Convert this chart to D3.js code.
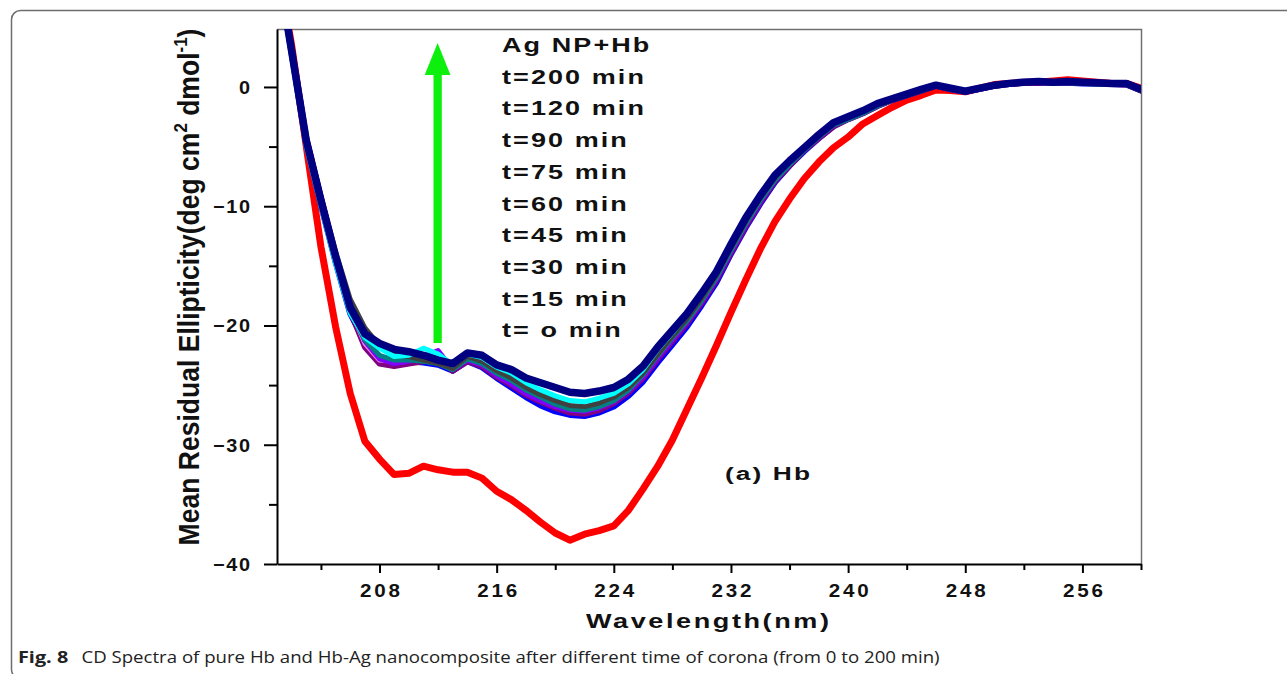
<!DOCTYPE html>
<html>
<head>
<meta charset="utf-8">
<script src="https://cdn.jsdelivr.net/npm/d3@7"></script>
<style>
  body { margin: 0; background: #fff; }
  svg { display: block; }
  .lbl { font-family: "Liberation Sans", Arial, sans-serif; font-weight: bold; fill: #111; }
</style>
</head>
<body>
<svg id="chart" width="1287" height="674"></svg>
<script>
// wavelength grid (nm)
var wavelength = [201.5, 202, 203, 204, 205, 206, 207, 208, 209, 210, 211, 212, 213, 214, 215, 216, 217, 218, 219, 220,
  221, 222, 223, 224, 225, 226, 227, 228, 229, 230, 231, 232, 233, 234, 235, 236, 237, 238, 239, 240,
  241, 242, 243, 244, 245, 246, 247, 248, 249, 250, 251, 252, 253, 254, 255, 256, 257, 258, 259, 260];

// pure Hb (red)
var hbPure = [7.0, 3.5, -5.0, -13.4, -20.1, -25.7, -29.7, -31.2, -32.5, -32.4, -31.8, -32.1, -32.3, -32.3, -32.8, -33.9, -34.6, -35.5, -36.5, -37.4,
  -38.0, -37.5, -37.2, -36.8, -35.5, -33.7, -31.8, -29.6, -27.0, -24.4, -21.7, -18.9, -16.2, -13.6, -11.3, -9.4, -7.7, -6.3, -5.1, -4.2,
  -3.1, -2.4, -1.7, -1.1, -0.7, -0.25, -0.3, -0.4, -0.1, 0.2, 0.3, 0.4, 0.4, 0.5, 0.6, 0.5, 0.4, 0.3, 0.3, -0.1];

// Ag NP + Hb
var t15 = [6.6, 2.8, -4.8, -9.9, -14.7, -19.0, -21.4, -22.6, -23.0, -23.0, -23.1, -23.3, -23.8, -23.0, -23.5, -24.4, -25.2, -26.0, -26.7, -27.2,
  -27.5, -27.6, -27.3, -26.8, -25.9, -24.7, -23.1, -21.6, -20.1, -18.3, -16.4, -14.0, -11.8, -9.8, -8.0, -6.6, -5.4, -4.3, -3.3, -2.7,
  -2.2, -1.6, -1.1, -0.7, -0.3, 0.1, -0.2, -0.4, -0.15, 0.1, 0.25, 0.35, 0.4, 0.35, 0.35, 0.3, 0.3, 0.25, 0.2, -0.3];
var t30 = [6.9, 3.3, -4.3, -9.3, -14.2, -18.8, -21.8, -23.2, -23.4, -23.2, -23.0, -22.6, -23.8, -23.0, -23.4, -24.3, -25.0, -25.8, -26.4, -26.9,
  -27.3, -27.4, -27.1, -26.5, -25.6, -24.4, -22.8, -21.3, -19.8, -18.1, -16.2, -13.9, -11.7, -9.7, -7.9, -6.6, -5.3, -4.3, -3.3, -2.7,
  -2.2, -1.6, -1.1, -0.7, -0.3, 0.1, -0.15, -0.4, -0.15, 0.1, 0.25, 0.35, 0.4, 0.35, 0.4, 0.35, 0.3, 0.25, 0.2, -0.3];
var t45 = [6.8, 3.1, -4.5, -9.4, -14.1, -18.6, -21.5, -22.9, -23.0, -22.8, -22.7, -23.0, -23.6, -22.8, -23.2, -24.1, -24.8, -25.6, -26.2, -26.7,
  -27.0, -27.0, -26.7, -26.2, -25.3, -24.1, -22.5, -21.0, -19.5, -17.8, -15.9, -13.6, -11.4, -9.4, -7.7, -6.4, -5.2, -4.1, -3.1, -2.6,
  -2.1, -1.5, -1.0, -0.6, -0.2, 0.2, -0.1, -0.3, -0.1, 0.15, 0.3, 0.45, 0.5, 0.45, 0.5, 0.45, 0.4, 0.35, 0.3, -0.15];
var t60 = [6.9, 3.3, -4.2, -9.2, -14.0, -18.5, -21.3, -22.8, -23.2, -23.0, -22.6, -22.1, -23.7, -22.9, -23.3, -24.2, -24.9, -25.7, -26.3, -26.8,
  -27.1, -27.2, -26.9, -26.4, -25.5, -24.3, -22.7, -21.2, -19.7, -18.0, -16.1, -13.8, -11.6, -9.6, -7.8, -6.5, -5.2, -4.2, -3.2, -2.6,
  -2.1, -1.5, -1.0, -0.6, -0.2, 0.15, -0.1, -0.35, -0.1, 0.15, 0.3, 0.4, 0.45, 0.4, 0.4, 0.4, 0.3, 0.3, 0.25, -0.2];
var t75 = [6.6, 2.9, -4.7, -9.8, -14.6, -18.9, -21.2, -22.5, -22.9, -22.9, -23.0, -23.2, -23.7, -22.8, -23.2, -24.0, -24.6, -25.4, -26.0, -26.6,
  -27.0, -27.1, -26.8, -26.3, -25.4, -24.1, -22.5, -21.0, -19.6, -17.9, -16.0, -13.7, -11.5, -9.5, -7.8, -6.5, -5.3, -4.2, -3.2, -2.7,
  -2.2, -1.6, -1.1, -0.7, -0.3, 0.1, -0.15, -0.4, -0.15, 0.1, 0.25, 0.35, 0.4, 0.35, 0.35, 0.3, 0.25, 0.2, 0.2, -0.3];
var t90 = [6.8, 3.2, -4.3, -9.2, -13.8, -17.8, -20.2, -21.7, -22.4, -22.6, -22.9, -23.2, -23.6, -22.6, -23.0, -23.8, -24.4, -25.2, -25.8, -26.3,
  -26.7, -26.8, -26.5, -26.0, -25.2, -24.0, -22.4, -20.9, -19.4, -17.7, -15.8, -13.5, -11.3, -9.3, -7.6, -6.3, -5.1, -4.1, -3.1, -2.6,
  -2.1, -1.5, -1.1, -0.7, -0.3, 0.1, -0.2, -0.4, -0.15, 0.1, 0.3, 0.35, 0.4, 0.4, 0.4, 0.35, 0.3, 0.25, 0.2, -0.3];
var t120 = [6.5, 2.6, -5.0, -10.0, -14.8, -19.0, -21.0, -21.9, -22.6, -22.5, -21.9, -22.4, -23.3, -22.4, -22.7, -23.5, -24.0, -24.8, -25.4, -25.9,
  -26.3, -26.4, -26.1, -25.7, -24.9, -23.7, -22.0, -20.6, -19.1, -17.4, -15.5, -13.2, -11.0, -9.2, -7.5, -6.3, -5.2, -4.1, -3.1, -2.6,
  -2.1, -1.5, -1.0, -0.6, -0.25, 0.1, -0.15, -0.4, -0.15, 0.1, 0.3, 0.4, 0.4, 0.35, 0.4, 0.4, 0.3, 0.25, 0.25, -0.25];
var t200 = [6.7, 3.0, -4.5, -9.5, -14.2, -18.5, -20.7, -21.5, -22.0, -22.2, -22.5, -22.9, -23.2, -22.3, -22.5, -23.3, -23.7, -24.4, -24.8, -25.2,
  -25.6, -25.7, -25.5, -25.2, -24.5, -23.4, -21.8, -20.4, -19.0, -17.3, -15.5, -13.2, -11.0, -9.1, -7.4, -6.2, -5.1, -4.0, -3.0, -2.5,
  -2.0, -1.4, -1.0, -0.6, -0.2, 0.15, -0.1, -0.35, -0.1, 0.15, 0.3, 0.4, 0.45, 0.4, 0.45, 0.4, 0.35, 0.3, 0.3, -0.2];

var legendLines = ["Ag NP+Hb", "t=200 min", "t=120 min", "t=90 min", "t=75 min", "t=60 min", "t=45 min", "t=30 min", "t=15 min", "t= o min"];
var xMajorTicks = [208, 216, 224, 232, 240, 248, 256];
var xMinorTicks = [204, 212, 220, 228, 236, 244, 252, 260];
var yMajorTicks = [-40, -30, -20, -10, 0];
var yMinorTicks = [-35, -25, -15, -5];

// draw order: first = bottom
var series = [
  {values: hbPure, color: "#ff0000", width: 7},
  {values: t15, color: "#0000ff", width: 6},
  {values: t30, color: "#800080", width: 6},
  {values: t45, color: "#ee82ee", width: 5},
  {values: t60, color: "#8000ff", width: 5},
  {values: t75, color: "#008080", width: 5},
  {values: t90, color: "#404040", width: 5},
  {values: t120, color: "#00ffff", width: 5},
  {values: t200, color: "#000080", width: 7.5}
];

var svg = d3.select("#chart");
var plot = {left: 277, right: 1141, top: 29, bottom: 564};

var x = d3.scaleLinear().domain([201, 260]).range([plot.left, plot.right]);
var y = d3.scaleLinear().domain([-40, 4.86]).range([plot.bottom, plot.top]);

svg.append("rect").attr("width", 1287).attr("height", 674).attr("fill", "#fff");

// figure frame
svg.append("rect")
  .attr("x", 11.5).attr("y", 10.5)
  .attr("width", 1320).attr("height", 668)
  .attr("rx", 9).attr("ry", 9)
  .attr("fill", "none").attr("stroke", "#6e6e6e").attr("stroke-width", 1.5);

// plot box top / right (grey)
svg.append("path")
  .attr("d", "M" + plot.left + "," + (plot.top + 0.5) + "H" + (plot.right + 0.5) + "V" + plot.bottom)
  .attr("fill", "none").attr("stroke", "#707070").attr("stroke-width", 1.5);

svg.append("clipPath").attr("id", "clip")
  .append("rect")
  .attr("x", plot.left).attr("y", plot.top)
  .attr("width", plot.right - plot.left).attr("height", plot.bottom - plot.top);

var line = d3.line()
  .x(function(d, i) { return x(wavelength[i]); })
  .y(function(d) { return y(d); });

svg.append("g").attr("clip-path", "url(#clip)")
  .selectAll("path")
  .data(series)
  .enter().append("path")
    .attr("d", function(d) { return line(d.values); })
    .attr("fill", "none")
    .attr("stroke", function(d) { return d.color; })
    .attr("stroke-width", function(d) { return d.width; })
    .attr("stroke-linejoin", "round")
    .attr("stroke-linecap", "round");

// horizontal stretch so a string (with given letter spacing) hits a target width
function stretchFactor(str, size, target, ls) {
  var t = svg.append("text").attr("class", "lbl").style("font-size", size + "px").text(str);
  var w = t.node().getBBox().width;
  t.remove();
  return target / (w + ls * (str.length - 1));
}

// axes
var kX = stretchFactor("208", 18.5, 40, 2.5);
var kY = stretchFactor("-40", 18, 32, 1.5);

svg.append("g")
  .attr("transform", "translate(0," + plot.bottom + ")")
  .call(d3.axisBottom(x).tickValues(xMinorTicks).tickSize(6).tickFormat(""))
  .call(function(g) { g.select(".domain").remove(); });

svg.append("g")
  .attr("class", "x-axis")
  .attr("transform", "translate(0," + plot.bottom + ")")
  .call(d3.axisBottom(x).tickValues(xMajorTicks).tickSize(9).tickSizeOuter(0).tickFormat(d3.format("d")))
  .call(function(g) {
    g.selectAll("text")
      .attr("class", "lbl").attr("y", 0).attr("dy", null)
      .attr("fill", null)
      .style("font-size", "18.5px")
      .attr("letter-spacing", 2.5)
      .attr("transform", "translate(" + (1.25 * kX) + ",33) scale(" + kX + ",1)");
  });

svg.append("g")
  .attr("transform", "translate(" + plot.left + ",0)")
  .call(d3.axisLeft(y).tickValues(yMinorTicks).tickSize(8).tickFormat(""))
  .call(function(g) { g.select(".domain").remove(); });

svg.append("g")
  .attr("class", "y-axis")
  .attr("transform", "translate(" + plot.left + ",0)")
  .call(d3.axisLeft(y).tickValues(yMajorTicks).tickSize(13).tickSizeOuter(0))
  .call(function(g) {
    g.selectAll("text")
      .attr("class", "lbl").attr("x", 0).attr("dy", null)
      .attr("fill", null)
      .style("font-size", "18px")
      .attr("letter-spacing", 1.5)
      .attr("text-anchor", "end")
      .attr("transform", "translate(" + (-27 + 1.5 * kY) + ",6.5) scale(" + kY + ",1)");
  });

svg.selectAll(".domain, .tick line").attr("stroke", "#000").attr("stroke-width", 2);

// axis titles
var kXTitle = stretchFactor("Wavelength(nm)", 21, 243, 2);
svg.append("text")
  .attr("class", "lbl")
  .style("font-size", "21px")
  .attr("letter-spacing", 2)
  .attr("transform", "translate(586,628) scale(" + kXTitle + ",1)")
  .text("Wavelength(nm)");

var yTitle = svg.append("text")
  .attr("class", "lbl")
  .style("font-size", "22px")
  .attr("text-anchor", "middle");
yTitle.append("tspan").text("Mean Residual Ellipticity(deg cm");
yTitle.append("tspan").attr("dy", -9).style("font-size", "14px").text("2");
yTitle.append("tspan").attr("dy", 9).text(" dmol");
yTitle.append("tspan").attr("dy", -9).style("font-size", "14px").text("-1");
yTitle.append("tspan").attr("dy", 9).text(")");
var yLen = yTitle.node().getBBox().width;
yTitle.attr("transform", "translate(199,287) rotate(-90) scale(" + (517 / yLen) + ",1.3)");

// legend
var kLeg = stretchFactor("t=200 min", 19.5, 142, 1.5);
svg.append("g")
  .selectAll("text")
  .data(legendLines)
  .enter().append("text")
    .attr("class", "lbl")
    .style("font-size", "19.5px")
    .attr("letter-spacing", 1.5)
    .attr("transform", function(d, i) { return "translate(502," + (52 + i * 31.7) + ") scale(" + kLeg + ",1)"; })
    .text(function(d) { return d; });

var kHb = stretchFactor("(a) Hb", 19, 85, 1.5);
svg.append("text")
  .attr("class", "lbl")
  .style("font-size", "19px")
  .attr("letter-spacing", 1.5)
  .attr("transform", "translate(725,480) scale(" + kHb + ",1)")
  .text("(a) Hb");

// green arrow
svg.append("rect")
  .attr("x", 433.5).attr("y", 70).attr("width", 8.3).attr("height", 273)
  .attr("fill", "#0df00d");
svg.append("path")
  .attr("d", "M437.6,43L450.5,75H424.7Z")
  .attr("fill", "#0df00d");

// caption
var cap = svg.append("text")
  .style("font-family", "'Open Sans', 'Noto Sans', sans-serif")
  .style("font-size", "15.5px")
  .attr("fill", "#222");
cap.append("tspan").style("font-weight", "bold").style("font-size", "16.5px").text("Fig. 8");
cap.append("tspan").attr("dx", 11).text("CD Spectra of pure Hb and Hb-Ag nanocomposite after different time of corona (from 0 to 200 min)");
var capW = cap.node().getBBox().width;
cap.attr("transform", "translate(18,663) scale(" + (922 / capW) + ",1)");
</script>
</body>
</html>
